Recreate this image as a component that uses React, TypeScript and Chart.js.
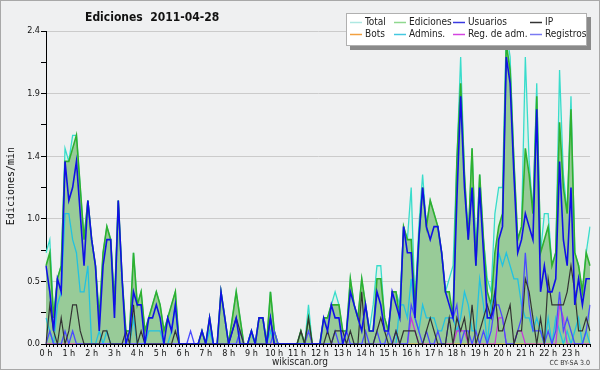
import React, { useEffect, useRef } from "react";
import { Chart, registerables } from "chart.js";

Chart.register(...registerables);

const TITLE = "Ediciones  2011-04-28";
const Y_TITLE = "Ediciones/min";
const X_TITLE = "wikiscan.org";
const CREDIT = "CC BY-SA 3.0";

// 10-minute slots over the day (144)
const slots: number[] = Array.from({ length: 144 }, (_, i) => i);
const yTicks = [0, 0.24, 0.48, 0.72, 0.96, 1.2, 1.44, 1.68, 1.92, 2.16, 2.4];

// values per hour row (6 slots each)
const total = [
  0.7, 0.8, 0.2, 0.5, 0.6, 1.5,
  1.4, 1.6, 1.6, 1.2, 0.8, 1.1,
  0.8, 0.6, 0.2, 0.7, 0.9, 0.8,
  0.3, 1.1, 0.5, 0.1, 0.1, 0.7,
  0.3, 0.4, 0.1, 0.2, 0.3, 0.4,
  0.3, 0.1, 0.2, 0.3, 0.4, 0.0,
  0.0, 0.0, 0.0, 0.0, 0.0, 0.1,
  0.0, 0.2, 0.0, 0.0, 0.4, 0.2,
  0.0, 0.2, 0.4, 0.2, 0.0, 0.0,
  0.1, 0.0, 0.2, 0.2, 0.0, 0.4,
  0.1, 0.0, 0.0, 0.0, 0.0, 0.0,
  0.0, 0.1, 0.0, 0.3, 0.0, 0.0,
  0.0, 0.2, 0.2, 0.3, 0.4, 0.3,
  0.1, 0.1, 0.5, 0.3, 0.2, 0.5,
  0.3, 0.1, 0.3, 0.6, 0.6, 0.2,
  0.1, 0.4, 0.4, 0.3, 0.9, 0.8,
  1.2, 0.3, 0.9, 1.3, 0.9, 1.1,
  1.0, 0.9, 0.7, 0.4, 0.5, 0.6,
  1.4, 2.2, 1.3, 0.8, 1.5, 0.7,
  1.3, 0.8, 0.5, 0.4, 1.0, 1.2,
  1.2, 2.4, 2.2, 1.4, 0.8, 0.9,
  2.2, 1.4, 1.0, 2.0, 0.7, 1.0,
  1.0, 0.6, 0.7, 2.1, 1.3, 1.0,
  1.9, 0.7, 0.6, 0.4, 0.7, 0.9,
];

const ediciones = [
  0.6, 0.7, 0.2, 0.5, 0.6, 1.4,
  1.4, 1.5, 1.6, 1.2, 0.8, 1.1,
  0.8, 0.6, 0.2, 0.7, 0.9, 0.8,
  0.3, 1.1, 0.5, 0.1, 0.1, 0.7,
  0.3, 0.4, 0.1, 0.2, 0.3, 0.4,
  0.3, 0.1, 0.2, 0.3, 0.4, 0.0,
  0.0, 0.0, 0.0, 0.0, 0.0, 0.1,
  0.0, 0.2, 0.0, 0.0, 0.4, 0.2,
  0.0, 0.2, 0.4, 0.2, 0.0, 0.0,
  0.1, 0.0, 0.2, 0.2, 0.0, 0.4,
  0.1, 0.0, 0.0, 0.0, 0.0, 0.0,
  0.0, 0.1, 0.0, 0.2, 0.0, 0.0,
  0.0, 0.2, 0.2, 0.3, 0.3, 0.3,
  0.1, 0.1, 0.5, 0.3, 0.2, 0.5,
  0.3, 0.1, 0.1, 0.5, 0.5, 0.2,
  0.1, 0.4, 0.4, 0.2, 0.9, 0.8,
  0.8, 0.3, 0.8, 1.2, 0.9, 1.1,
  1.0, 0.9, 0.7, 0.4, 0.4, 0.2,
  1.4, 2.0, 1.3, 0.8, 1.5, 0.6,
  1.3, 0.8, 0.4, 0.3, 0.7, 0.9,
  1.0, 2.3, 2.1, 1.4, 0.8, 0.9,
  1.5, 1.3, 1.0, 1.9, 0.7, 0.8,
  0.9, 0.6, 0.7, 1.7, 1.2, 1.0,
  1.8, 0.7, 0.6, 0.4, 0.7, 0.6,
];

const usuarios = [
  0.6, 0.4, 0.1, 0.5, 0.4, 1.4,
  1.1, 1.2, 1.4, 1.0, 0.6, 1.1,
  0.8, 0.6, 0.1, 0.6, 0.8, 0.8,
  0.2, 1.1, 0.5, 0.0, 0.1, 0.4,
  0.3, 0.3, 0.0, 0.2, 0.2, 0.3,
  0.2, 0.0, 0.2, 0.1, 0.3, 0.0,
  0.0, 0.0, 0.0, 0.0, 0.0, 0.1,
  0.0, 0.2, 0.0, 0.0, 0.4, 0.2,
  0.0, 0.1, 0.2, 0.0, 0.0, 0.0,
  0.1, 0.0, 0.2, 0.2, 0.0, 0.2,
  0.0, 0.0, 0.0, 0.0, 0.0, 0.0,
  0.0, 0.0, 0.0, 0.0, 0.0, 0.0,
  0.0, 0.2, 0.1, 0.3, 0.2, 0.2,
  0.0, 0.1, 0.4, 0.3, 0.2, 0.1,
  0.3, 0.1, 0.1, 0.4, 0.3, 0.1,
  0.1, 0.4, 0.3, 0.2, 0.9, 0.7,
  0.7, 0.2, 0.8, 1.2, 0.9, 0.8,
  0.9, 0.9, 0.7, 0.4, 0.3, 0.2,
  1.1, 1.9, 1.2, 0.8, 1.2, 0.6,
  1.2, 0.7, 0.2, 0.2, 0.3, 0.8,
  0.9, 2.2, 2.0, 1.3, 0.7, 0.8,
  1.0, 0.9, 0.8, 1.8, 0.4, 0.6,
  0.4, 0.4, 0.5, 1.4, 0.8, 0.6,
  1.2, 0.3, 0.5, 0.3, 0.5, 0.5,
];

const ip = [
  0.0, 0.3, 0.1, 0.0, 0.2, 0.0,
  0.1, 0.3, 0.3, 0.1, 0.0, 0.0,
  0.0, 0.0, 0.0, 0.1, 0.1, 0.0,
  0.0, 0.0, 0.0, 0.1, 0.0, 0.3,
  0.0, 0.1, 0.0, 0.0, 0.0, 0.0,
  0.0, 0.0, 0.0, 0.0, 0.1, 0.0,
  0.0, 0.0, 0.0, 0.0, 0.0, 0.0,
  0.0, 0.0, 0.0, 0.0, 0.0, 0.0,
  0.0, 0.1, 0.2, 0.1, 0.0, 0.0,
  0.0, 0.0, 0.0, 0.0, 0.0, 0.2,
  0.0, 0.0, 0.0, 0.0, 0.0, 0.0,
  0.0, 0.1, 0.0, 0.2, 0.0, 0.0,
  0.0, 0.0, 0.1, 0.0, 0.1, 0.1,
  0.1, 0.0, 0.1, 0.0, 0.0, 0.4,
  0.0, 0.0, 0.0, 0.1, 0.2, 0.1,
  0.0, 0.0, 0.1, 0.0, 0.1, 0.1,
  0.1, 0.1, 0.0, 0.0, 0.1, 0.2,
  0.1, 0.0, 0.0, 0.0, 0.2, 0.0,
  0.2, 0.1, 0.2, 0.0, 0.3, 0.0,
  0.1, 0.2, 0.3, 0.2, 0.4, 0.1,
  0.1, 0.2, 0.3, 0.0, 0.1, 0.1,
  0.5, 0.4, 0.2, 0.0, 0.2, 0.0,
  0.5, 0.3, 0.3, 0.3, 0.3, 0.4,
  0.6, 0.4, 0.1, 0.1, 0.2, 0.1,
];

const bots = new Array(144).fill(0);

const admins = [
  0.2, 0.1, 0.0, 0.3, 0.4, 1.0,
  1.0, 0.8, 0.7, 0.4, 0.4, 0.6,
  0.0, 0.0, 0.1, 0.0, 0.1, 0.0,
  0.0, 0.0, 0.0, 0.0, 0.0, 0.2,
  0.0, 0.0, 0.0, 0.1, 0.1, 0.1,
  0.1, 0.0, 0.0, 0.1, 0.3, 0.0,
  0.0, 0.0, 0.0, 0.0, 0.0, 0.0,
  0.0, 0.1, 0.0, 0.0, 0.0, 0.0,
  0.0, 0.0, 0.0, 0.0, 0.0, 0.0,
  0.1, 0.0, 0.0, 0.0, 0.0, 0.1,
  0.0, 0.0, 0.0, 0.0, 0.0, 0.0,
  0.0, 0.0, 0.0, 0.0, 0.0, 0.0,
  0.0, 0.0, 0.0, 0.0, 0.0, 0.0,
  0.0, 0.0, 0.0, 0.0, 0.0, 0.0,
  0.0, 0.0, 0.0, 0.0, 0.0, 0.0,
  0.0, 0.0, 0.0, 0.3, 0.3, 0.2,
  0.5, 0.2, 0.1, 0.3, 0.2, 0.2,
  0.2, 0.1, 0.1, 0.2, 0.2, 0.2,
  0.1, 0.2, 0.4, 0.3, 0.1, 0.1,
  0.5, 0.3, 0.0, 0.3, 0.4, 0.7,
  0.6, 0.7, 0.6, 0.5, 0.5, 0.3,
  0.2, 0.2, 0.1, 0.2, 0.1, 0.0,
  0.2, 0.0, 0.2, 0.1, 0.0, 0.1,
  0.0, 0.1, 0.2, 0.0, 0.1, 0.0,
];

const regAdm = [
  0, 0, 0, 0, 0, 0,
  0, 0, 0, 0, 0, 0,
  0, 0, 0, 0, 0, 0,
  0, 0, 0, 0, 0, 0,
  0, 0, 0, 0, 0, 0,
  0, 0, 0, 0, 0, 0,
  0, 0, 0, 0, 0, 0,
  0, 0, 0, 0, 0, 0,
  0, 0, 0, 0, 0, 0,
  0, 0, 0, 0, 0, 0,
  0, 0, 0, 0, 0, 0,
  0, 0, 0, 0, 0, 0,
  0, 0, 0, 0, 0, 0,
  0, 0, 0, 0, 0, 0,
  0, 0, 0, 0, 0, 0,
  0, 0, 0, 0, 0, 0,
  0.2, 0.1, 0, 0, 0, 0,
  0, 0, 0, 0, 0, 0,
  0.1, 0.1, 0.1, 0, 0, 0,
  0, 0, 0, 0, 0, 0.2,
  0.2, 0, 0, 0, 0.1, 0.1,
  0, 0, 0, 0, 0, 0,
  0, 0, 0, 0.3, 0.2, 0,
  0, 0, 0, 0, 0, 0,
];

const registros = [
  0.0, 0.1, 0.0, 0.0, 0.0, 0.1,
  0.0, 0.1, 0.0, 0.0, 0.0, 0.0,
  0.0, 0.0, 0.0, 0.0, 0.0, 0.0,
  0.0, 0.0, 0.0, 0.0, 0.0, 0.0,
  0.0, 0.0, 0.0, 0.0, 0.0, 0.0,
  0.0, 0.0, 0.0, 0.0, 0.0, 0.0,
  0.0, 0.0, 0.1, 0.0, 0.0, 0.0,
  0.0, 0.0, 0.0, 0.0, 0.0, 0.0,
  0.0, 0.0, 0.0, 0.1, 0.0, 0.0,
  0.0, 0.0, 0.0, 0.0, 0.0, 0.0,
  0.1, 0.0, 0.0, 0.0, 0.0, 0.0,
  0.0, 0.0, 0.0, 0.1, 0.0, 0.0,
  0.0, 0.0, 0.0, 0.0, 0.1, 0.0,
  0.0, 0.1, 0.0, 0.0, 0.0, 0.0,
  0.1, 0.0, 0.0, 0.1, 0.0, 0.0,
  0.1, 0.0, 0.1, 0.0, 0.0, 0.0,
  0.3, 0.2, 0.1, 0.0, 0.1, 0.0,
  0.0, 0.1, 0.0, 0.0, 0.2, 0.2,
  0.3, 0.0, 0.1, 0.1, 0.0, 0.1,
  0.0, 0.1, 0.0, 0.1, 0.3, 0.3,
  0.2, 0.0, 0.0, 0.0, 0.1, 0.2,
  0.7, 0.3, 0.1, 0.1, 0.1, 0.0,
  0.1, 0.0, 0.1, 0.4, 0.1, 0.2,
  0.1, 0.0, 0.0, 0.0, 0.1, 0.3,
];

const legendNames = ["Total", "Ediciones", "Usuarios", "IP", "Bots", "Admins.", "Reg. de adm.", "Registros"];
const legendColors = ["#aee8e2", "#8fd88f", "#3a3ae0", "#333333", "#f2a040", "#44c8e0", "#d444e0", "#7a7af2"];

const FONT = "'DejaVu Sans Condensed', 'DejaVu Sans', sans-serif";

const decor = {
  id: "decor",
  beforeDraw(chart: any) {
    const { ctx, width, height } = chart;
    ctx.save();
    ctx.fillStyle = "#eff0f1";
    ctx.fillRect(0, 0, width, height);
    ctx.restore();
  },
  afterDraw(chart: any) {
    const { ctx, width, height } = chart;
    ctx.save();
    // title
    ctx.fillStyle = "#111";
    ctx.font = `bold 12px ${FONT}`;
    ctx.textAlign = "left";
    ctx.textBaseline = "middle";
    ctx.fillText(TITLE, 85, 18);
    // y title
    ctx.save();
    ctx.translate(11, 186);
    ctx.rotate(-Math.PI / 2);
    ctx.font = `10px 'DejaVu Sans Mono', monospace`;
    ctx.textAlign = "center";
    ctx.fillStyle = "#111";
    ctx.fillText(Y_TITLE, 0, 0);
    ctx.restore();
    // x title
    ctx.font = `10px ${FONT}`;
    ctx.textAlign = "center";
    ctx.fillStyle = "#222";
    ctx.fillText(X_TITLE, 300, 362);
    // credit
    ctx.font = `7px ${FONT}`;
    ctx.textAlign = "right";
    ctx.fillStyle = "#333";
    ctx.fillText(CREDIT, 590, 363);
    // legend
    const bx = 346, by = 13, bw = 241, bh = 33;
    ctx.fillStyle = "#8a8a8a";
    ctx.fillRect(bx + 4, by + 4, bw, bh);
    ctx.fillStyle = "#ffffff";
    ctx.fillRect(bx, by, bw, bh);
    ctx.strokeStyle = "#b0b0b0";
    ctx.lineWidth = 1;
    ctx.strokeRect(bx + 0.5, by + 0.5, bw - 1, bh - 1);
    const cols = [350, 394, 453, 530];
    const rows = [22, 34];
    ctx.font = `10px ${FONT}`;
    ctx.textAlign = "left";
    ctx.textBaseline = "middle";
    legendNames.forEach((name, k) => {
      const cx = cols[k % 4];
      const cy = rows[Math.floor(k / 4)];
      ctx.strokeStyle = legendColors[k];
      ctx.lineWidth = 1.5;
      ctx.beginPath();
      ctx.moveTo(cx, cy + 0.5);
      ctx.lineTo(cx + 12, cy + 0.5);
      ctx.stroke();
      ctx.fillStyle = "#222";
      ctx.fillText(name, cx + 15, cy);
    });
    // outer border
    ctx.strokeStyle = "#a8a8a8";
    ctx.lineWidth = 1;
    ctx.strokeRect(0.5, 0.5, width - 1, height - 1);
    ctx.restore();
  },
};

export default function App() {
  const ref = useRef<HTMLCanvasElement | null>(null);
  useEffect(() => {
    document.body.style.margin = "0";
    const canvas = ref.current;
    if (!canvas) return;
    const line = (label: string, data: number[], color: string, order: number, width = 1.3, extra: any = {}) => ({
      label,
      data,
      borderColor: color,
      borderWidth: width,
      pointRadius: 0,
      tension: 0,
      fill: false,
      order,
      ...extra,
    });
    const chart = new Chart(canvas, {
      type: "line",
      data: {
        labels: slots,
        datasets: [
          line("Total", total, "#38dccb", 9, 1.3, { fill: "origin", backgroundColor: "#dcf2e9" }),
          line("Ediciones", ediciones, "#2fb02f", 8, 1.6, { fill: "origin", backgroundColor: "#98cb98" }),
          line("Bots", bots, "#f2a040", 7, 1.2),
          line("Admins.", admins, "#22c2e0", 6, 1.3),
          line("Reg. de adm.", regAdm, "#cc33dd", 5, 1.2),
          line("Registros", registros, "#4a4aff", 4, 1.3),
          line("IP", ip, "#333333", 3, 1.2),
          line("Usuarios", usuarios, "#1010e6", 2, 1.6),
        ],
      },
      options: {
        animation: false,
        responsive: false,
        devicePixelRatio: 1,
        layout: { padding: { top: 31, right: 10, left: 0, bottom: 0 } },
        plugins: {
          legend: { display: false },
          tooltip: { enabled: false },
          title: { display: false },
        },
        scales: {
          x: {
            type: "category",
            offset: false,
            grid: { drawOnChartArea: false, drawTicks: true, tickLength: 3, color: "#000", tickColor: "#000" },
            border: { display: true, color: "#000", width: 1 },
            ticks: {
              autoSkip: false,
              maxRotation: 0,
              minRotation: 0,
              padding: 1,
              color: "#111",
              font: { family: FONT, size: 9 },
              callback: (_v: any, i: number) => (i % 6 === 0 ? `${i / 6} h` : ""),
            },
            afterFit: (s: any) => {
              s.height = 26;
            },
          },
          y: {
            type: "linear",
            min: 0,
            max: 2.4,
            afterBuildTicks: (s: any) => {
              s.ticks = yTicks.map((v) => ({ value: v }));
            },
            grid: {
              color: (c: any) => (c.index % 2 === 0 && c.index > 0 ? "#cbcbcb" : "rgba(0,0,0,0)"),
              tickColor: "#000",
              tickLength: 5,
              drawTicks: true,
            },
            border: { display: true, color: "#000", width: 1 },
            ticks: {
              padding: 1,
              color: "#111",
              font: { family: FONT, size: 9 },
              callback: (v: any, i: number) => (i % 2 === 0 ? Number(v).toFixed(1) : ""),
            },
            afterFit: (s: any) => {
              s.width = 46;
            },
          },
        },
      },
      plugins: [decor],
    });
    return () => chart.destroy();
  }, []);
  return <canvas ref={ref} width={600} height={370} style={{ display: "block" }} />;
}
